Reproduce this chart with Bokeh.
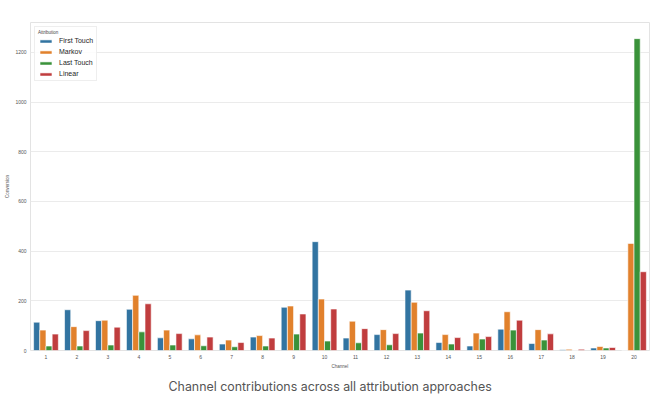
from bokeh.plotting import figure
from bokeh.models import FactorRange, Range1d, FixedTicker, Title, ColumnDataSource
from bokeh.transform import dodge
from bokeh.embed import file_html
from bokeh.resources import INLINE

channels = [str(i) for i in range(1, 21)]
first_touch = [114, 164, 120, 166, 51, 47, 26, 54, 174, 438, 50, 64, 243, 32, 18, 86, 28, 3, 10, 0]
markov = [82, 96, 122, 222, 82, 63, 42, 60, 179, 207, 118, 84, 194, 64, 70, 156, 84, 5, 16, 431]
last_touch = [18, 18, 22, 75, 22, 19, 15, 18, 66, 38, 31, 23, 70, 26, 46, 82, 42, 0, 10, 1255]
linear = [66, 80, 94, 188, 68, 54, 32, 50, 147, 167, 88, 68, 160, 52, 56, 122, 67, 5, 12, 317]
series_names = ["First Touch", "Markov", "Last Touch", "Linear"]
colors = ["#3274A1", "#E1812C", "#3A923A", "#C03D3E"]
y_ticks = [0, 200, 400, 600, 800, 1000, 1200]

src = ColumnDataSource(dict(channel=channels, ft=first_touch, mk=markov, lt=last_touch, ln=linear))

p = figure(width=659, height=398, x_range=FactorRange(*channels), y_range=Range1d(0, 1320),
           output_backend="svg", toolbar_location=None,
           min_border_left=30, min_border_right=10, min_border_top=22, min_border_bottom=47)

cols = ["ft", "mk", "lt", "ln"]
offsets = [-0.3, -0.1, 0.1, 0.3]
for c, off, name, col in zip(cols, offsets, series_names, colors):
    p.vbar(x=dodge("channel", off, range=p.x_range), top=c, width=0.2, source=src,
           fill_color=col, line_color="white", line_width=0.6, legend_label=name)

p.outline_line_color = "#e3e3e3"
p.outline_line_width = 1
p.xgrid.grid_line_color = None
p.ygrid.grid_line_color = "#ebebeb"
p.ygrid.grid_line_width = 1
p.yaxis.ticker = FixedTicker(ticks=y_ticks)

for ax in (p.xaxis, p.yaxis):
    ax.axis_line_color = None
    ax.major_tick_line_color = None
    ax.minor_tick_line_color = None
    ax.major_tick_out = 0
    ax.major_tick_in = 0
    ax.minor_tick_out = 0
    ax.minor_tick_in = 0
    ax.major_label_text_font = "Liberation Sans"
    ax.major_label_text_font_size = "5px"
    ax.major_label_text_color = "#555555"
    ax.axis_label_text_font = "Liberation Sans"
    ax.axis_label_text_font_size = "4.5px"
    ax.axis_label_text_font_style = "normal"
    ax.axis_label_text_color = "#555555"
    ax.major_label_standoff = 4
    ax.axis_label_standoff = 2

p.xaxis.axis_label = "Channel"
p.yaxis.axis_label = "Conversion"

lg = p.legend[0]
lg.location = "top_left"
lg.margin = 4
lg.padding = 3
lg.spacing = 4
lg.label_height = 7
lg.glyph_height = 4
lg.glyph_width = 15
lg.label_standoff = 6
lg.label_text_font = "Liberation Sans"
lg.label_text_font_size = "7px"
lg.label_text_color = "#262626"
lg.title = "Attribution"
lg.title_text_font = "Liberation Sans"
lg.title_text_font_size = "4.5px"
lg.title_text_font_style = "normal"
lg.title_text_color = "#444444"
lg.title_standoff = 2
lg.border_line_color = "#dddddd"
lg.background_fill_alpha = 0.85

cap = Title(text="Channel contributions across all attribution approaches", align="left",
            text_font="Inter", text_font_size="12.4px", text_font_style="normal",
            text_color="#555555", offset=138)
p.add_layout(cap, "below")

open("out.html", "w").write(file_html(p, INLINE))
